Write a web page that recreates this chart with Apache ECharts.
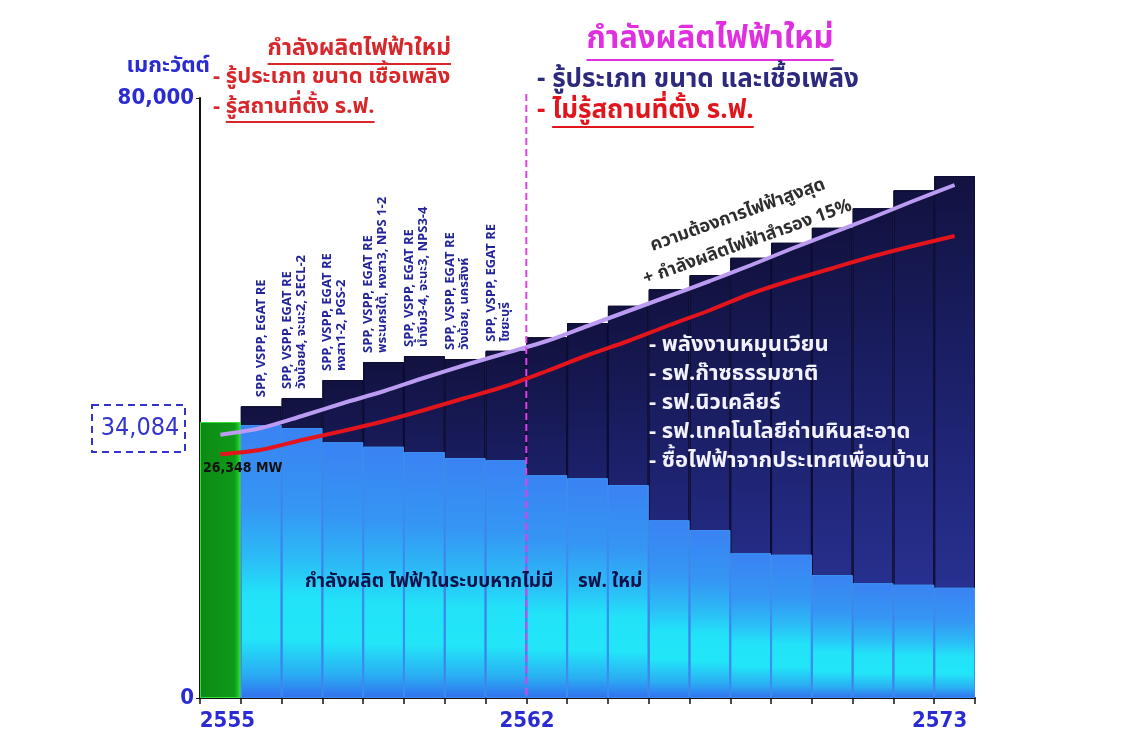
<!DOCTYPE html>
<html lang="th">
<head>
<meta charset="UTF-8">
<script src="https://cdn.jsdelivr.net/npm/echarts@6/dist/echarts.min.js"></script>
<title>กำลังผลิตไฟฟ้า</title>
<style>html,body{margin:0;padding:0;background:#fff;}</style>
</head>
<body>
<div id="main" style="width:1137px;height:748px;"></div>
<script type="text/javascript">
// ปี พ.ศ.
var years = ['2555','2556','2557','2558','2559','2560','2561','2562','2563','2564',
             '2565','2566','2567','2568','2569','2570','2571','2572','2573'];
var shownYears = ['2555','2562','2573'];
// กำลังผลิตในระบบ (ไม่มี รฟ. ใหม่), MW
var existingCap = [36800,36400,36000,34100,33500,32800,32000,31700,29700,29300,
                   28400,23700,22400,19300,19100,16400,15300,15100,14700];
// กำลังผลิตรวม (รวม รฟ. ใหม่), MW
var totalCap = [36800,38900,40000,42400,44800,45600,45200,46300,48100,50000,
                52300,54500,56400,58700,60700,62700,65300,67700,69600];
// ความต้องการไฟฟ้าสูงสุด + สำรอง 15%
var peakReserve = [35100,36000,37600,39300,40900,42700,44400,46000,47600,49600,
                   51600,53600,55600,57700,59900,62000,64100,66300,68400];
// ความต้องการไฟฟ้าสูงสุด
var peakDemand = [32500,33100,34400,35600,36900,38400,40000,41600,43600,45700,
                  47600,49700,51700,53900,55700,57300,58900,60300,61600];
// โครงการที่รู้สถานที่ตั้ง (ข้อความแนวตั้ง)
var projectLabels = [
    'SPP, VSPP, EGAT RE',
    'SPP, VSPP, EGAT RE\nวังน้อย4, จะนะ2, SECL-2',
    'SPP, VSPP, EGAT RE\nหงสา1-2, PGS-2',
    'SPP, VSPP, EGAT RE\nพระนครใต้, หงสา3, NPS 1-2',
    'SPP, VSPP, EGAT RE\nน้ำงึม3-4, จะนะ3, NPS3-4',
    'SPP, VSPP, EGAT RE\nวังน้อย, นครสิงห์',
    'SPP, VSPP, EGAT RE\nไซยะบุรี'
];
var newPlantTypes = ['- พลังงานหมุนเวียน','- รฟ.ก๊าซธรรมชาติ','- รฟ.นิวเคลียร์',
                     '- รฟ.เทคโนโลยีถ่านหินสะอาด','- ซื้อไฟฟ้าจากประเทศเพื่อนบ้าน'];

var TH = "'Noto Sans Thai', Tahoma, 'DejaVu Sans', sans-serif";
var NUM = "'DejaVu Sans Condensed', 'DejaVu Sans', sans-serif";
var blue = '#2b2bd4';

var myChart = echarts.init(document.getElementById('main'));

var labelShift = {'2555': 'a', '2562': 'b', '2573': 'c'};

var option = {
    backgroundColor: '#fff',
    animation: false,
    grid: {left: 200, right: 162, top: 98, bottom: 50},
    xAxis: {
        type: 'category',
        data: years,
        boundaryGap: true,
        axisLine: {lineStyle: {color: '#111', width: 2}},
        axisTick: {show: true, interval: 0, length: 6, lineStyle: {color: '#111', width: 1.5}},
        axisLabel: {
            interval: function (i, v) { return shownYears.indexOf(v) >= 0; },
            margin: 12,
            formatter: function (v) { return '{' + labelShift[v] + '|' + v + '}'; },
            rich: {
                a: {color: blue, fontSize: 22, fontWeight: 'bold', fontFamily: NUM, padding: [0, 0, 0, 14]},
                b: {color: blue, fontSize: 22, fontWeight: 'bold', fontFamily: NUM, padding: [0, 0, 0, 42]},
                c: {color: blue, fontSize: 22, fontWeight: 'bold', fontFamily: NUM, padding: [0, 30, 0, 0]}
            }
        },
        splitLine: {show: false}
    },
    yAxis: {
        type: 'value',
        min: 0,
        max: 80000,
        interval: 80000,
        axisLine: {show: true, lineStyle: {color: '#111', width: 2}},
        axisTick: {show: true, length: 4, lineStyle: {color: '#111'}},
        axisLabel: {
            color: blue, fontSize: 22, fontWeight: 'bold', fontFamily: NUM, margin: 6,
            formatter: function (v) { return v === 0 ? '0' : echarts.format.addCommas(v); }
        },
        splitLine: {show: false}
    },
    series: [
        {
            name: 'กำลังผลิตรวม',
            type: 'bar',
            barWidth: '100%',
            data: totalCap,
            itemStyle: {
                color: new echarts.graphic.LinearGradient(0, 0, 0, 1, [
                    {offset: 0, color: '#121240'},
                    {offset: 0.5, color: '#1f2474'},
                    {offset: 1, color: '#2f3aa6'}
                ]),
                borderColor: '#0c0c34',
                borderWidth: 1
            },
            z: 2
        },
        {
            name: 'กำลังผลิตในระบบ',
            type: 'bar',
            barWidth: '100%',
            barGap: '-100%',
            data: existingCap.map(function (v, i) {
                if (i === 0) {
                    return {
                        value: v,
                        itemStyle: {
                            color: new echarts.graphic.LinearGradient(0, 0, 1, 0, [
                                {offset: 0, color: '#0c8a14'},
                                {offset: 0.85, color: '#0f9a18'},
                                {offset: 1, color: '#2ee03a'}
                            ]),
                            borderColor: '#33e040',
                            borderWidth: 1
                        }
                    };
                }
                return v;
            }),
            itemStyle: {
                color: new echarts.graphic.LinearGradient(0, 0, 0, 1, [
                    {offset: 0, color: '#3a82f3'},
                    {offset: 0.3, color: '#3596f4'},
                    {offset: 0.48, color: '#2cbaf6'},
                    {offset: 0.62, color: '#22e2f8'},
                    {offset: 0.78, color: '#22e6f8'},
                    {offset: 0.91, color: '#2aaef3'},
                    {offset: 1, color: '#3270ee'}
                ]),
                borderColor: '#3d8ef0',
                borderWidth: 1
            },
            z: 3
        },
        {
            name: 'ความต้องการไฟฟ้าสูงสุด + สำรอง 15%',
            type: 'line',
            data: peakReserve,
            smooth: 0.3,
            symbol: 'none',
            lineStyle: {color: '#bb9cf2', width: 4},
            z: 5
        },
        {
            name: 'ความต้องการไฟฟ้าสูงสุด',
            type: 'line',
            data: peakDemand,
            smooth: 0.3,
            symbol: 'none',
            lineStyle: {color: '#e3141c', width: 4},
            z: 5
        }
    ]
};
myChart.setOption(option);

// ---------- annotations ----------
var ctx = document.createElement('canvas').getContext('2d');
function textW(str, font) { ctx.font = font; return ctx.measureText(str).width; }

var g = [];
function txt(x, y, s, font, color, align) {
    g.push({
        type: 'text', x: x, y: y, z: 100,
        style: {text: s, font: font, fill: color, align: align || 'left', verticalAlign: 'middle'}
    });
}
function uline(x1, x2, y, color, w) {
    g.push({type: 'line', z: 100, shape: {x1: x1, y1: y, x2: x2, y2: y},
            style: {stroke: color, lineWidth: w || 2}});
}

var px = function (i, v) { return myChart.convertToPixel({seriesIndex: 0}, [i, v]); };
var yTop = myChart.convertToPixel({yAxisIndex: 0}, 80000);
var yZero = myChart.convertToPixel({yAxisIndex: 0}, 0);
var xDiv = (px(7, 0)[0] + px(8, 0)[0]) / 2;

// y axis unit
txt(210, 68, 'เมกะวัตต์', 'bold 22px ' + TH, blue, 'right');

// left header (red)
var redC = '#d8262a';
var f0 = 'bold 23px ' + TH;
var f1 = 'bold 22px ' + TH;
txt(451, 50, 'กำลังผลิตไฟฟ้าใหม่', f0, redC, 'right');
uline(451 - textW('กำลังผลิตไฟฟ้าใหม่', f0), 451, 64, redC, 2);
txt(213, 79, '- รู้ประเภท ขนาด เชื้อเพลิง', f1, redC);
txt(213, 109, '- รู้สถานที่ตั้ง ร.ฟ.', f1, redC);
uline(213 + textW('- ', f1), 213 + textW('- รู้สถานที่ตั้ง ร.ฟ.', f1), 122, redC, 2);

// right header
var f2 = 'bold 31px ' + TH;
var f3 = 'bold 26px ' + TH;
txt(710, 42, 'กำลังผลิตไฟฟ้าใหม่', f2, '#e02fe0', 'center');
var w2 = textW('กำลังผลิตไฟฟ้าใหม่', f2);
uline(710 - w2 / 2, 710 + w2 / 2, 60, '#e02fe0', 2);
txt(537, 82, '- รู้ประเภท ขนาด และเชื้อเพลิง', f3, '#2d2a7e');
txt(537, 113, '- ไม่รู้สถานที่ตั้ง ร.ฟ.', f3, '#e0161c');
uline(537 + textW('- ', f3), 537 + textW('- ไม่รู้สถานที่ตั้ง ร.ฟ.', f3), 127, '#e0161c', 2);

// divider 2562
g.push({type: 'line', z: 90, shape: {x1: xDiv, y1: yTop - 4, x2: xDiv, y2: yZero},
        style: {stroke: '#e040e8', lineWidth: 2, lineDash: [7, 4]}});

// 34,084 box
g.push({type: 'rect', z: 100, shape: {x: 92, y: 405, width: 93, height: 47},
        style: {fill: 'none', stroke: '#3434cc', lineWidth: 2, lineDash: [7, 5]}});
txt(140, 428, '34,084', '25px ' + NUM, '#3434cc', 'center');
txt(203, 468, '26,348 MW', 'bold 14px ' + NUM, '#111');

// rotated project labels above bars
projectLabels.forEach(function (s, k) {
    var i = k + 1;
    var p = px(i, totalCap[i]);
    var off = s.indexOf('\n') >= 0 ? -7 : 1;
    g.push({
        type: 'text', z: 100, x: p[0] + off, y: p[1] - 9, rotation: Math.PI / 2,
        style: {text: s, font: 'bold 13px ' + TH, fill: '#23239a', align: 'left',
                verticalAlign: 'middle', lineHeight: 14}
    });
});

// line label
g.push({
    type: 'text', z: 100, x: 743, y: 230, rotation: 0.345,
    style: {text: 'ความต้องการไฟฟ้าสูงสุด\n+ กำลังผลิตไฟฟ้าสำรอง 15%', font: 'bold 18px ' + TH,
            fill: '#2e2e2e', align: 'center', verticalAlign: 'middle', lineHeight: 29}
});

// new plant types (white)
g.push({
    type: 'text', z: 100, x: 649, y: 405,
    style: {text: newPlantTypes.join('\n'), font: 'bold 22px ' + TH, fill: '#f2f2ff',
            align: 'left', verticalAlign: 'middle', lineHeight: 29}
});

// existing capacity caption
txt(305, 583, 'กำลังผลิต ไฟฟ้าในระบบหากไม่มี     รฟ. ใหม่', 'bold 19px ' + TH, '#10104a');

myChart.setOption({graphic: g});
</script>
</body>
</html>
